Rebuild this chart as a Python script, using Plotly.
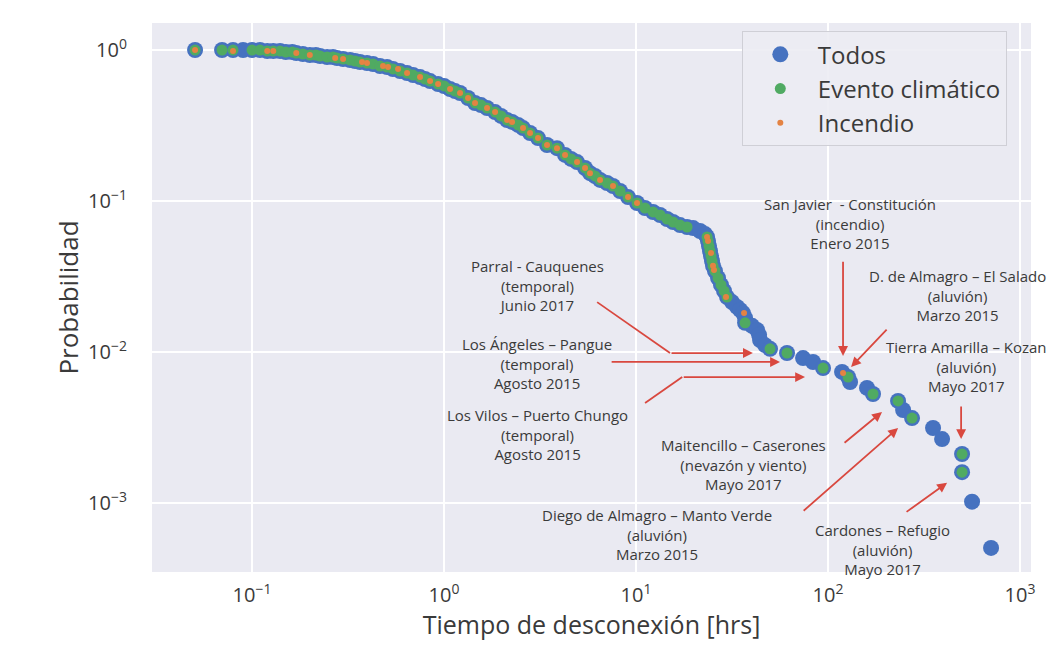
import plotly.graph_objects as go
import math

# ---- data (hours, probability) ----
todos_x = [0.0505, 0.0698, 0.0796, 0.0898, 0.100, 0.110, 0.120, 0.129, 0.140, 0.150,
           0.162, 0.170, 0.184, 0.200, 0.215, 0.226, 0.246, 0.264, 0.277, 0.298,
           0.324, 0.344, 0.365, 0.397, 0.427, 0.464, 0.505, 0.542, 0.590, 0.642,
           0.690, 0.750, 0.796, 0.846, 0.931, 1.000, 1.075, 1.141, 1.212, 1.334,
           1.450, 1.558, 1.675, 1.844, 1.981, 2.129, 2.261, 2.429, 2.579, 2.805,
           3.087, 3.439, 3.876, 4.268, 4.585, 4.928, 5.425, 5.757, 6.112, 6.494,
           7.063, 7.586, 8.254, 9.085, 10.12, 11.13, 12.26, 13.34, 14.50, 15.59,
           16.95, 18.44, 19.81, 21.54, 22.88, 23.43, 23.71, 23.99, 24.28, 24.57,
           24.87, 25.17, 25.77, 26.74, 27.71, 28.73, 29.78, 31.62, 33.57, 34.82,
           36.08, 36.97, 36.97, 40.19, 42.68, 43.72, 44.24, 46.97, 49.87, 61.14,
           74.10, 83.55, 94.19, 118.3, 127.1, 130.2, 159.6, 171.5, 231.5, 246.0,
           273.8, 352.2, 392.6, 498.9, 498.9, 562.3, 706.3]
todos_y = [1.0, 1.0, 1.0, 1.0, 1.0, 1.0, 0.985, 0.985, 0.985, 0.970,
           0.970, 0.955, 0.941, 0.927, 0.927, 0.913, 0.899, 0.899, 0.885, 0.872,
           0.859, 0.846, 0.833, 0.820, 0.808, 0.783, 0.772, 0.749, 0.726, 0.704,
           0.683, 0.662, 0.643, 0.623, 0.595, 0.578, 0.552, 0.535, 0.519, 0.481,
           0.446, 0.432, 0.413, 0.388, 0.366, 0.344, 0.334, 0.319, 0.304, 0.282,
           0.261, 0.235, 0.224, 0.202, 0.190, 0.181, 0.1655, 0.153, 0.1465, 0.138,
           0.1316, 0.1257, 0.1165, 0.1062, 0.0970, 0.0899, 0.0846, 0.0808, 0.0760, 0.0726,
           0.0693, 0.0673, 0.0662, 0.0633, 0.0604, 0.0578, 0.0543, 0.0503, 0.0467, 0.0432,
           0.0401, 0.0372, 0.0344, 0.0309, 0.0278, 0.0254, 0.0231, 0.0214, 0.0199, 0.0190,
           0.0181, 0.0168, 0.0156, 0.0149, 0.0140, 0.0130, 0.0120, 0.0111, 0.0105, 0.00985,
           0.00912, 0.00859, 0.00783, 0.00738, 0.00683, 0.00633, 0.00578, 0.00527, 0.00474, 0.00413,
           0.00365, 0.00314, 0.00265, 0.00211, 0.00160, 0.00102, 0.000504]

clima_x = [0.0505, 0.0698, 0.0796, 0.100, 0.110, 0.120, 0.129, 0.140, 0.150,
           0.162, 0.170, 0.184, 0.200, 0.215, 0.226, 0.246, 0.264, 0.277, 0.298,
           0.324, 0.344, 0.365, 0.397, 0.427, 0.464, 0.505, 0.542, 0.590, 0.642,
           0.690, 0.750, 0.796, 0.846, 0.931, 1.000, 1.075, 1.141, 1.212, 1.334,
           1.450, 1.558, 1.675, 1.844, 1.981, 2.129, 2.261, 2.429, 2.579, 2.805,
           3.087, 3.439, 3.876, 4.268, 4.585, 4.928, 5.425, 5.757, 6.112, 6.494,
           7.063, 7.586, 8.254, 9.085, 10.12, 11.13, 12.26, 13.34, 14.50, 15.59,
           16.95, 18.44, 23.43, 23.71, 23.99, 24.28, 24.57, 24.87, 25.17, 25.77,
           26.74, 27.71, 28.73, 29.78, 36.97, 49.87, 61.14, 94.19, 127.1, 171.5,
           231.5, 273.8, 498.9, 498.9]
clima_y = [1.0, 1.0, 1.0, 1.0, 1.0, 0.985, 0.985, 0.985, 0.970,
           0.970, 0.955, 0.941, 0.927, 0.927, 0.913, 0.899, 0.899, 0.885, 0.872,
           0.859, 0.846, 0.833, 0.820, 0.808, 0.783, 0.772, 0.749, 0.726, 0.704,
           0.683, 0.662, 0.643, 0.623, 0.595, 0.578, 0.552, 0.535, 0.519, 0.481,
           0.446, 0.432, 0.413, 0.388, 0.366, 0.344, 0.334, 0.319, 0.304, 0.282,
           0.261, 0.235, 0.224, 0.202, 0.190, 0.181, 0.1655, 0.153, 0.1465, 0.138,
           0.1316, 0.1257, 0.1165, 0.1062, 0.0970, 0.0899, 0.0846, 0.0808, 0.0760, 0.0726,
           0.0693, 0.0673, 0.0578, 0.0543, 0.0503, 0.0467, 0.0432, 0.0401, 0.0372, 0.0344,
           0.0309, 0.0278, 0.0254, 0.0231, 0.0156, 0.0105, 0.00985, 0.00783, 0.00683, 0.00527,
           0.00474, 0.00365, 0.00211, 0.00160]

incendio_x = [0.0505, 0.0796, 0.120, 0.129, 0.170, 0.200, 0.271, 0.298, 0.374, 0.397,
              0.481, 0.511, 0.576, 0.642, 0.750, 0.846, 0.931, 1.075, 1.212, 1.334,
              1.450, 1.675, 1.844, 2.129, 2.261, 2.579, 2.805, 3.087, 3.439, 3.876,
              4.268, 4.928, 5.425, 5.757, 6.494, 7.586, 9.085, 10.12, 23.43, 23.71,
              24.57, 25.17, 25.47, 29.42, 36.52, 119.7]
incendio_y = [1.0, 0.985, 0.985, 0.985, 0.955, 0.927, 0.885, 0.872, 0.833, 0.820,
              0.783, 0.772, 0.749, 0.704, 0.662, 0.623, 0.595, 0.552, 0.519, 0.481,
              0.446, 0.413, 0.388, 0.344, 0.334, 0.304, 0.282, 0.261, 0.235, 0.224,
              0.202, 0.181, 0.1655, 0.153, 0.138, 0.1257, 0.1062, 0.0970, 0.0578, 0.0543,
              0.0453, 0.0372, 0.0349, 0.0231, 0.0181, 0.00726]

x_ticks = [0.1, 1, 10, 100, 1000]
x_ticktext = ["10<sup>−1</sup>", "10<sup>0</sup>", "10<sup>1</sup>", "10<sup>2</sup>", "10<sup>3</sup>"]
y_ticks = [0.001, 0.01, 0.1, 1]
y_ticktext = ["10<sup>−3</sup>", "10<sup>−2</sup>", "10<sup>−1</sup>", "10<sup>0</sup>"]

# annotation labels: (text, x_center [hrs], y_center [prob])
labels = [
    ("San Javier  - Constitución<br>(incendio)<br>Enero 2015", 130.3, 0.0705),
    ("D. de Almagro – El Salado<br>(aluvión)<br>Marzo 2015", 470.0, 0.0235),
    ("Tierra Amarilla – Kozan<br>(aluvión)<br>Mayo 2017", 523.6, 0.00796),
    ("Maitencillo – Caserones<br>(nevazón y viento)<br>Mayo 2017", 36.1, 0.00181),
    ("Diego de Almagro – Manto Verde<br>(aluvión)<br>Marzo 2015", 12.85, 0.000614),
    ("Cardones – Refugio<br>(aluvión)<br>Mayo 2017", 191.0, 0.000495),
    ("Parral - Cauquenes<br>(temporal)<br>Junio 2017", 3.05, 0.0274),
    ("Los Ángeles – Pangue<br>(temporal)<br>Agosto 2015", 3.05, 0.00845),
    ("Los Vilos – Puerto Chungo<br>(temporal)<br>Agosto 2015", 3.05, 0.00286),
]
# arrows: (tail_x, tail_y, head_x, head_y)
arrows = [
    (119.7, 0.0406, 119.7, 0.00942),
    (205.4, 0.0144, 131.8, 0.00796),
    (493.2, 0.00446, 493.2, 0.00265),
    (119.7, 0.00246, 191.0, 0.00401),
    (73.3, 0.000871, 231.7, 0.00314),
    (251.8, 0.000859, 416.9, 0.00136),
    (15.03, 0.00984, 40.6, 0.00984),
    (7.33, 0.00859, 56.2, 0.00859),
    (17.4, 0.00682, 75.9, 0.00682),
]
# elbow segments leading into arrows: (x0, y0, x1, y1)
elbows = [
    (6.27, 0.0214, 15.03, 0.00984),
    (11.14, 0.00459, 17.4, 0.00682),
]

fig = go.Figure()
fig.add_trace(go.Scatter(x=todos_x, y=todos_y, mode="markers", name="Todos",
                         marker=dict(color="#4672C0", size=16, line=dict(width=0)),
                         legendgroup="a"))
fig.add_trace(go.Scatter(x=clima_x, y=clima_y, mode="markers", name="Evento climático",
                         marker=dict(color="#50AA62", size=11, line=dict(width=0)),
                         legendgroup="b"))
fig.add_trace(go.Scatter(x=incendio_x, y=incendio_y, mode="markers", name="Incendio",
                         marker=dict(color="#E48343", size=6, line=dict(width=0)),
                         legendgroup="c"))

red = "#D9483F"
txtcol = "#3a3a3a"
for t, xc, yc in labels:
    fig.add_annotation(x=math.log10(xc), y=math.log10(yc), xref="x", yref="y", text=t,
                       showarrow=False, font=dict(size=15, color=txtcol), align="center")
for tx, ty, hx, hy in arrows:
    fig.add_annotation(x=math.log10(hx), y=math.log10(hy), ax=math.log10(tx), ay=math.log10(ty),
                       xref="x", yref="y", axref="x", ayref="y", text="", showarrow=True,
                       arrowhead=2, arrowsize=1.1, arrowwidth=1.8, arrowcolor=red, standoff=0)
for x0, y0, x1, y1 in elbows:
    fig.add_shape(type="line", x0=x0, y0=y0, x1=x1, y1=y1, xref="x", yref="y",
                  line=dict(color=red, width=1.8))

font_family = "Open Sans, Lato, sans-serif"
fig.update_layout(
    width=1042, height=633,
    margin=dict(l=144, r=19, t=15, b=69),
    paper_bgcolor="white", plot_bgcolor="#EAEAF2",
    font=dict(family=font_family, color=txtcol),
    showlegend=True,
    legend=dict(x=0.671, y=0.985, xanchor="left", yanchor="top",
                bgcolor="rgba(236,236,243,0.9)", bordercolor="#cfcfd6", borderwidth=1,
                font=dict(size=24, color=txtcol), itemsizing="trace", tracegroupgap=0,
                itemwidth=65),
    xaxis=dict(type="log", range=[-1.521, 3.057], tickvals=x_ticks, ticktext=x_ticktext,
               automargin=False,
               showgrid=True, gridcolor="white", gridwidth=1.5, zeroline=False, showline=False,
               ticks="", tickfont=dict(size=20, color=txtcol), ticklabelstandoff=9,
               title=dict(text="Tiempo de desconexión [hrs]", font=dict(size=25, color=txtcol), standoff=11)),
    yaxis=dict(type="log", range=[-3.457, 0.179], tickvals=y_ticks, ticktext=y_ticktext,
               automargin=False,
               showgrid=True, gridcolor="white", gridwidth=1.5, zeroline=False, showline=False,
               ticks="", tickfont=dict(size=20, color=txtcol), ticklabelstandoff=24,
               title=dict(text="Probabilidad", font=dict(size=26, color=txtcol), standoff=2)),
)
fig.write_html("out.html")
